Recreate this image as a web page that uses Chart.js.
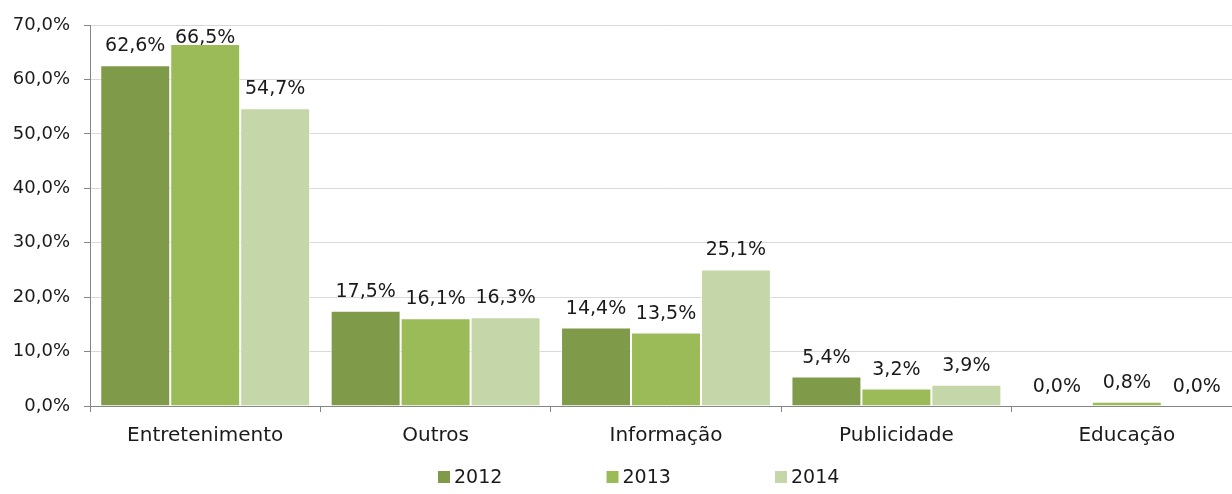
<!DOCTYPE html>
<html lang="pt">
<head>
<meta charset="utf-8">
<title>Categorias 2012-2014</title>
<script src="https://cdn.jsdelivr.net/npm/chart.js@4/dist/chart.umd.min.js"></script>
<style>
  html, body { margin: 0; padding: 0; background: #fff; overflow: hidden; }
  #wrap { width: 1242px; height: 494px; }
</style>
</head>
<body>
<div id="wrap"><canvas id="chart" width="1242" height="494"></canvas></div>
<script>
// data
const categories = ['Entretenimento', 'Outros', 'Informação', 'Publicidade', 'Educação'];
const seriesNames = ['2012', '2013', '2014'];
const values2012 = [62.6, 17.5, 14.4, 5.4, 0.0];
const values2013 = [66.5, 16.1, 13.5, 3.2, 0.8];
const values2014 = [54.7, 16.3, 25.1, 3.9, 0.0];
const yTicks = [0, 10, 20, 30, 40, 50, 60, 70];

const colors = ['#7f9a48', '#9bbb59', '#c5d6a9'];
const FONT = '"DejaVu Sans", sans-serif';
const TEXT = '#1a1a1a';

const fmt = v => v.toFixed(1).replace('.', ',') + '%';

// numbers above each bar
const valueLabels = {
  id: 'valueLabels',
  afterDatasetsDraw(chart) {
    const ctx = chart.ctx;
    ctx.save();
    ctx.font = '19px ' + FONT;
    ctx.fillStyle = TEXT;
    ctx.textAlign = 'center';
    ctx.textBaseline = 'alphabetic';
    chart.data.datasets.forEach((ds, i) => {
      chart.getDatasetMeta(i).data.forEach((bar, j) => {
        const y = Math.max(bar.y - 14, chart.chartArea.top + 18);
        ctx.fillText(fmt(ds.data[j]), bar.x, y);
      });
    });
    ctx.restore();
  }
};

// legend drawn by hand, spaced like the original
const bottomLegend = {
  id: 'bottomLegend',
  afterDraw(chart) {
    const ctx = chart.ctx;
    ctx.save();
    ctx.font = '19px ' + FONT;
    ctx.textBaseline = 'alphabetic';
    ctx.textAlign = 'left';
    chart.data.datasets.forEach((ds, i) => {
      const x = 438 + i * 168.5;
      ctx.fillStyle = ds.backgroundColor;
      ctx.fillRect(x, 471, 12, 12);
      ctx.fillStyle = TEXT;
      ctx.fillText(ds.label, x + 16, 483);
    });
    ctx.restore();
  }
};

const allValues = [values2012, values2013, values2014];

new Chart(document.getElementById('chart'), {
  type: 'bar',
  data: {
    labels: categories,
    datasets: seriesNames.map((name, i) => ({
      label: name,
      data: allValues[i],
      backgroundColor: colors[i],
      borderColor: 'rgba(255,255,255,0.7)',
      borderWidth: 1,
      categoryPercentage: 0.911,
      barPercentage: 1
    }))
  },
  options: {
    responsive: false,
    animation: false,
    layout: { padding: { top: 25, right: 0, bottom: 48, left: 0 } },
    plugins: {
      legend: { display: false },
      tooltip: { enabled: false }
    },
    scales: {
      x: {
        grid: {
          display: true,
          drawOnChartArea: false,
          drawTicks: true,
          tickLength: 6,
          tickColor: '#868686'
        },
        border: { color: '#868686', width: 1 },
        ticks: {
          font: { family: FONT, size: 20 },
          color: TEXT,
          padding: 12,
          maxRotation: 0
        },
        afterFit: s => { s.height = 40; }
      },
      y: {
        min: 0,
        max: 70,
        afterBuildTicks: s => { s.ticks = yTicks.map(v => ({ value: v })); },
        grid: {
          color: '#d9d9d9',
          tickColor: '#868686',
          tickLength: 6
        },
        border: { color: '#868686', width: 1 },
        ticks: {
          font: { family: FONT, size: 18 },
          color: TEXT,
          padding: 14,
          callback: v => fmt(v)
        },
        afterFit: s => { s.width = 90; }
      }
    }
  },
  plugins: [valueLabels, bottomLegend]
});
</script>
</body>
</html>
